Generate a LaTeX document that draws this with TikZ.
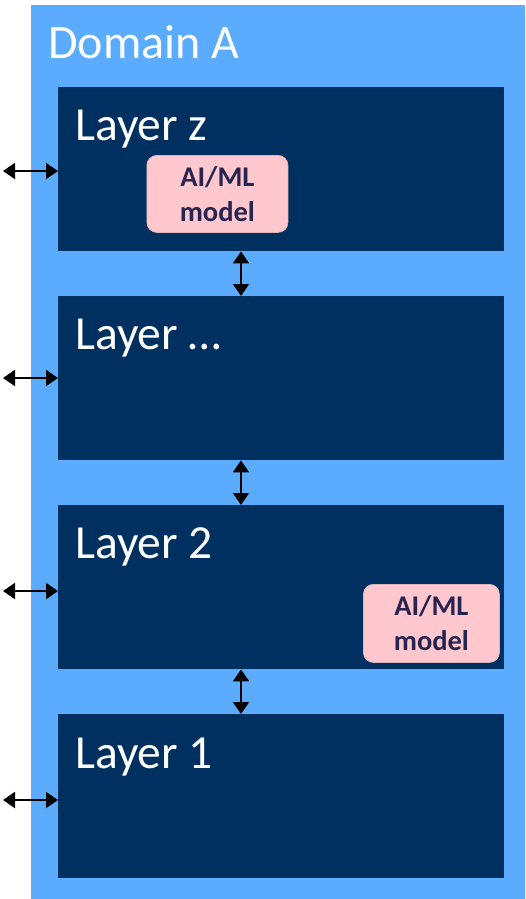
\documentclass[tikz,border=0pt]{standalone}
\usepackage{fontspec}
\setmainfont{Carlito}
\usetikzlibrary{arrows.meta}
\definecolor{domblue}{RGB}{91,171,255}
\definecolor{laynavy}{RGB}{0,48,96}
\definecolor{aipink}{RGB}{255,199,206}
\definecolor{aitext}{RGB}{40,36,80}
\begin{document}
\begin{tikzpicture}[x=1pt,y=-1pt,
  layerbox/.style={fill=laynavy,draw=none,minimum width=446pt,minimum height=164pt,anchor=north west,inner sep=0pt},
  laylabel/.style={anchor=base west,text=white,font=\fontsize{47.5}{52}\selectfont,inner sep=0pt},
  aibox/.style={fill=aipink,draw=aipink!75!gray,line width=0.8pt,rounded corners=10pt,anchor=north west,inner sep=0pt,align=center,text=aitext,font=\fontsize{28.5}{35}\selectfont\bfseries},
  arr/.style={{Triangle[length=12pt,width=16pt]}-{Triangle[length=12pt,width=16pt]},line width=2pt,black}]
\useasboundingbox (0,0) rectangle (525,899);
\fill[white] (0,0) rectangle (525,899);
\node[fill=domblue,anchor=north west,minimum width=494pt,minimum height=894pt,inner sep=0pt] (dom) at (31,5) {};
\node[anchor=base west,text=white,font=\fontsize{48}{52}\selectfont,inner sep=0pt] (domlabel) at (48,59) {Domain A};
% layers
\node[layerbox] (lz) at (58,87) {};
\node[layerbox] (ld) at (58,296) {};
\node[layerbox] (l2) at (58,505) {};
\node[layerbox] (l1) at (58,714) {};
\node[laylabel] (lzt) at (75,140) {Layer z};
\node[laylabel] (ldt) at (75,349) {Layer …};
\node[laylabel] (l2t) at (75,558) {Layer 2};
\node[laylabel] (l1t) at (75,768) {Layer 1};
% AI/ML models
\node[aibox,minimum width=141pt,minimum height=77pt] (aiz) at (146.5,155) {AI/ML\\model};
\node[aibox,minimum width=136pt,minimum height=78pt] (ai2) at (363,584) {AI/ML\\model};
% vertical arrows
\coordinate (ax) at (241,0);
\draw[arr] (lz.south -| ax) -- (ld.north -| ax);
\draw[arr] (ld.south -| ax) -- (l2.north -| ax);
\draw[arr] (l2.south -| ax) -- (l1.north -| ax);
% side arrows
\coordinate (ez) at (3,171);
\coordinate (ed) at (3,378);
\coordinate (e2) at (3,591);
\coordinate (e1) at (3,800);
\draw[arr] (ez) -- (ez -| lz.west);
\draw[arr] (ed) -- (ed -| ld.west);
\draw[arr] (e2) -- (e2 -| l2.west);
\draw[arr] (e1) -- (e1 -| l1.west);
\end{tikzpicture}
\end{document}
